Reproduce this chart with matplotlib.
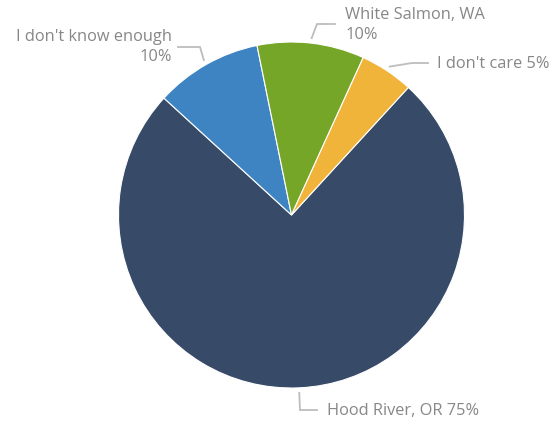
import numpy as np
import matplotlib
matplotlib.use('Agg')
import matplotlib.pyplot as plt

# Where do people live / answer shares
labels = ['Hood River, OR', "I don't know enough", 'White Salmon, WA', "I don't care"]
shares = [75, 10, 10, 5]
colors = ['#374b69', '#3f84c2', '#76a628', '#f0b43a']

plt.rcParams['font.family'] = ['Open Sans', 'DejaVu Sans']

W, H = 558, 423
fig = plt.figure(figsize=(W / 100, H / 100), dpi=100)
ax = fig.add_axes([0, 0, 1, 1])
ax.set_xlim(0, W)
ax.set_ylim(0, H)
ax.set_aspect('equal')
ax.axis('off')

cx, cy, r = 291.5, H - 215, 173
wedges, _ = ax.pie(shares, colors=colors, startangle=47.5, counterclock=False,
                   center=(cx, cy), radius=r,
                   wedgeprops=dict(edgecolor='white', linewidth=0.8))
ax.set_xlim(0, W)
ax.set_ylim(0, H)

TEXT_C = '#878787'
LINE_C = '#bdbdbd'

# (label text, elbow point, end of horizontal, text anchor, ha)
callouts = [
    (f'{labels[0]} {shares[0]}%', (300, 410), (317, 410), (327, 411), 'left'),
    (f'{labels[1]}\n{shares[1]}%', (200, 47), (178, 47), (172, 47), 'right'),
    (f'{labels[2]}\n{shares[2]}%', (317, 24), (335, 24), (345, 25), 'left'),
    (f'{labels[3]} {shares[3]}%', (412, 63), (428, 63), (437, 64), 'left'),
]

for w, (txt, elbow, hend, tpos, ha) in zip(wedges, callouts):
    mid = np.deg2rad((w.theta1 + w.theta2) / 2)
    sx = cx + (r + 5) * np.cos(mid)
    sy = cy + (r + 5) * np.sin(mid)
    ex, ey = elbow[0], H - elbow[1]
    hx, hy = hend[0], H - hend[1]
    ax.plot([sx, ex, hx], [sy, ey, hy], color=LINE_C, lw=1.3,
            solid_joinstyle='miter', clip_on=False)
    ax.text(tpos[0], H - tpos[1], txt, ha=ha, va='center', fontsize=11.8,
            color=TEXT_C, linespacing=1.4, multialignment=ha)

fig.savefig('out.png', dpi=100)
